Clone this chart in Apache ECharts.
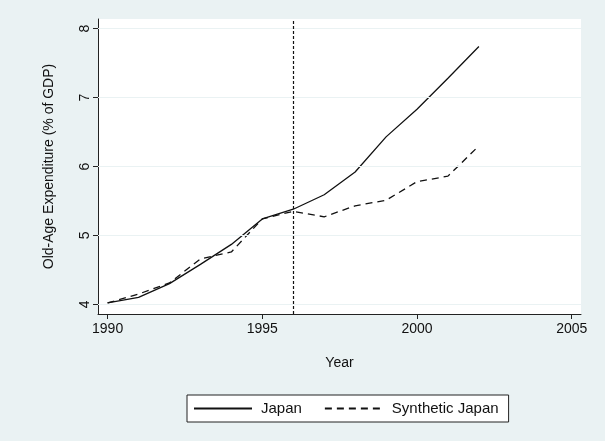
<!DOCTYPE html>
<html>
<head>
<meta charset="utf-8">
<script src="https://cdn.jsdelivr.net/npm/echarts@6/dist/echarts.min.js"></script>
<style>
  html, body { margin: 0; padding: 0; background: #eaf2f3; }
  #chart { width: 605px; height: 441px; }
</style>
</head>
<body>
<div id="chart"></div>
<script>
// 年份
var years = [1990, 1991, 1992, 1993, 1994, 1995, 1996, 1997, 1998, 1999, 2000, 2001, 2002];
// 日本实际值
var japan = [4.02, 4.10, 4.30, 4.58, 4.87, 5.24, 5.38, 5.59, 5.92, 6.43, 6.83, 7.28, 7.74];
// 合成日本
var synthetic = [4.02, 4.15, 4.31, 4.66, 4.76, 5.24, 5.35, 5.27, 5.43, 5.51, 5.78, 5.86, 6.30];
// 刻度
var xTicks = [1990, 1995, 2000, 2005];
var yTicks = [4, 5, 6, 7, 8];
var treatYear = 1996;

var font = 'Liberation Sans, Arial, sans-serif';

//把数组组合成 [x, y]
function pairs(xs, ys) {
  var out = [];
  xs.forEach(function(x, i) { out.push([x, ys[i]]); });
  return out;
}

var myChart = echarts.init(document.getElementById('chart'));
var option = {
  backgroundColor: '#eaf2f3',
  animation: false,
  textStyle: { fontFamily: font },
  grid: {
    left: 98, right: 24, top: 19, bottom: 127,
    show: true, backgroundColor: '#ffffff', borderWidth: 0
  },
  xAxis: {
    type: 'value',
    min: 1989.69, max: 2005.3,
    name: 'Year', nameLocation: 'middle', nameGap: 42,
    nameTextStyle: { color: '#111', fontSize: 14, fontFamily: font },
    axisLine: { lineStyle: { color: '#222', width: 1 } },
    axisTick: { show: true, length: 5, customValues: xTicks, lineStyle: { color: '#222' } },
    axisLabel: {
      customValues: xTicks, color: '#111', fontSize: 14, margin: 8, fontFamily: font,
      formatter: function(v) { return String(v); }
    },
    splitLine: { show: false }
  },
  yAxis: {
    type: 'value',
    min: 3.86, max: 8.14,
    name: 'Old-Age Expenditure (% of GDP)', nameLocation: 'middle', nameGap: 42,
    nameTextStyle: { color: '#111', fontSize: 14, fontFamily: font },
    axisLine: { show: true, lineStyle: { color: '#222', width: 1 } },
    axisTick: { show: true, length: 5, customValues: yTicks, lineStyle: { color: '#222' } },
    axisLabel: { customValues: yTicks, rotate: 90, color: '#111', fontSize: 14, margin: 6, fontFamily: font },
    splitLine: { show: false }
  },
  legend: {
    left: 187, top: 395,
    padding: [6, 10, 6, 6],
    backgroundColor: '#ffffff', borderColor: '#222', borderWidth: 1,
    itemWidth: 58, itemHeight: 14, itemGap: 22,
    itemStyle: { opacity: 0 },
    textStyle: { color: '#111', fontSize: 15, fontFamily: font, padding: [0, 0, 0, 4] },
    data: ['Japan', 'Synthetic Japan']
  },
  series: [
    {
      //网格线和处理年份竖线，放在最底层
      name: 'refLines', type: 'line', symbol: 'none', data: [],
      markLine: {
        silent: true, symbol: 'none', label: { show: false },
        data: yTicks.map(function(v) {
          return { yAxis: v, lineStyle: { color: '#eaf2f3', width: 1, type: 'solid' } };
        }).concat([
          { xAxis: treatYear, lineStyle: { color: '#111', width: 1.2, type: [3, 2] } }
        ])
      },
      z: 1
    },
    {
      name: 'Japan', type: 'line', symbol: 'none',
      data: pairs(years, japan),
      lineStyle: { color: '#111', width: 1.3, type: 'solid' },
      itemStyle: { color: '#111' },
      z: 3
    },
    {
      name: 'Synthetic Japan', type: 'line', symbol: 'none',
      data: pairs(years, synthetic),
      lineStyle: { color: '#111', width: 1.3, type: [7, 5] },
      itemStyle: { color: '#111' },
      z: 3
    }
  ]
};
myChart.setOption(option);
</script>
</body>
</html>
